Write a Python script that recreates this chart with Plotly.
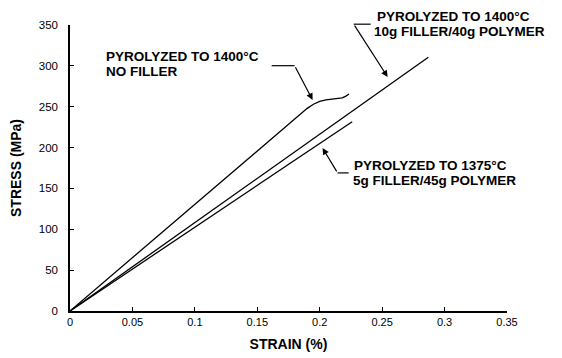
import plotly.graph_objects as go

# ---- data ----
strain_nofill = [0, 0.05, 0.10, 0.15, 0.18, 0.19, 0.195, 0.20, 0.205, 0.21, 0.215, 0.218, 0.221, 0.2235, 0.2220]
stress_nofill = [0, 65, 130, 196, 235, 248, 253, 256.5, 258.5, 259.5, 260, 260.8, 263, 265.5, 264]

strain_10g = [0, 0.287]
stress_10g = [0, 310.5]

strain_5g = [0, 0.226]
stress_5g = [0, 231.7]

x_ticks = [0, 0.05, 0.1, 0.15, 0.2, 0.25, 0.3, 0.35]
x_tick_labels = ["0", "0.05", "0.1", "0.15", "0.2", "0.25", "0.3", "0.35"]
y_ticks = [0, 50, 100, 150, 200, 250, 300, 350]

label_nofill = ["PYROLYZED TO 1400°C", "NO FILLER"]
label_10g = ["PYROLYZED TO 1400°C", "10g FILLER/40g POLYMER"]
label_5g = ["PYROLYZED TO 1375°C", "5g FILLER/45g POLYMER"]

FONT = "Liberation Sans, Arial, sans-serif"
LINE = dict(color="black", width=1.3)
Y_MAX = 350

fig = go.Figure()
for xs, ys in [(strain_nofill, stress_nofill), (strain_10g, stress_10g), (strain_5g, stress_5g)]:
    fig.add_trace(go.Scatter(x=xs, y=ys, mode="lines", line=LINE, showlegend=False, hoverinfo="skip"))

annotations = []
shapes = []

def label(lines, pos):
    (x1, y1), (x2, y2) = pos
    for txt, x, y in [(lines[0], x1, y1), (lines[1], x2, y2)]:
        annotations.append(dict(x=x, y=y / Y_MAX, xref="x", yref="y domain", text="<b>" + txt + "</b>",
                                showarrow=False, xanchor="left", yanchor="middle", borderpad=0,
                                font=dict(family=FONT, size=13.5, color="black")))

def leader(h_start, h_end, tip):
    shapes.append(dict(type="line", xref="x", yref="y domain", x0=h_start[0], y0=h_start[1] / Y_MAX,
                       x1=h_end[0], y1=h_end[1] / Y_MAX, line=dict(color="black", width=1.2)))
    annotations.append(dict(x=tip[0], y=tip[1] / Y_MAX, ax=h_end[0], ay=h_end[1] / Y_MAX,
                            xref="x", yref="y domain", axref="x", ayref="y domain", text="",
                            showarrow=True, arrowhead=2, arrowsize=1.1, arrowwidth=1.2,
                            arrowcolor="black", standoff=0))

label(label_nofill, [(0.0284, 310.9), (0.0284, 292.5)])
leader((0.1615, 300.2), (0.1799, 300.2), (0.1943, 258.3))

label(label_10g, [(0.2448, 360.2), (0.2424, 341.8)])
leader((0.2408, 351), (0.2272, 351), (0.2544, 286.4))

label(label_5g, [(0.2264, 177.5), (0.2256, 160.3)])
leader((0.2232, 169), (0.2143, 169), (0.2023, 199.5))

# page body has an 8px margin, so the figure is sized to fit the 562x358 window
fig.update_layout(
    width=554, height=350,
    margin=dict(l=62, r=55, t=17, b=47),
    paper_bgcolor="white", plot_bgcolor="white",
    font=dict(family=FONT, color="black"),
    annotations=annotations, shapes=shapes,
    xaxis=dict(range=[0, 0.35], tickvals=x_ticks, ticktext=x_tick_labels, automargin=False,
               showgrid=False, zeroline=False, showline=True, linecolor="black", linewidth=1.5,
               ticks="inside", ticklen=4, tickcolor="black", tickfont=dict(size=11),
               title=dict(text="<b>STRAIN (%)</b>", font=dict(size=14), standoff=12)),
    yaxis=dict(range=[0, Y_MAX], tickvals=y_ticks, automargin=False,
               showgrid=False, zeroline=False, showline=True, linecolor="black", linewidth=1.5,
               ticks="inside", ticklen=4, tickcolor="black", tickfont=dict(size=11.5),
               ticklabelstandoff=8,
               title=dict(text="<b>STRESS (MPa)</b>", font=dict(size=14), standoff=18)),
)

fig.write_html("out.html")
